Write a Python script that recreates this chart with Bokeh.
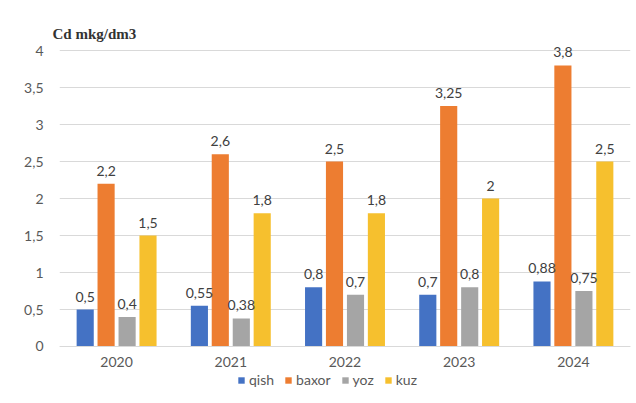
from bokeh.plotting import figure
from bokeh.models import (ColumnDataSource, FactorRange, Range1d, FixedTicker, LabelSet,
                          Legend, LegendItem, Title)
from bokeh.core.properties import value
from bokeh.transform import dodge
from bokeh.embed import file_html
from bokeh.resources import INLINE

years = ["2020", "2021", "2022", "2023", "2024"]
qish = [0.5, 0.55, 0.8, 0.7, 0.88]
baxor = [2.2, 2.6, 2.5, 3.25, 3.8]
yoz = [0.4, 0.38, 0.7, 0.8, 0.75]
kuz = [1.5, 1.8, 1.8, 2.0, 2.5]
y_ticks = [0, 0.5, 1, 1.5, 2, 2.5, 3, 3.5, 4]
series_names = ["qish", "baxor", "yoz", "kuz"]
title_text = "Cd mkg/dm3"


def fmt(v):
    return f"{v:g}".replace(".", ",")


data = {"year": years, "qish": qish, "baxor": baxor, "yoz": yoz, "kuz": kuz}
for name, vals in zip(series_names, [qish, baxor, yoz, kuz]):
    data[name + "_lbl"] = [fmt(v) for v in vals]
source = ColumnDataSource(data)

FONT = "Lato"

p = figure(frame_width=571, frame_height=348, x_range=FactorRange(*years), y_range=Range1d(-0.595, 4.11),
           output_backend="svg", toolbar_location=None,
           min_border_left=59, min_border_right=6, min_border_top=42, min_border_bottom=0,
           outline_line_color=None, background_fill_color="white", border_fill_color="white")

colors = ["#4472C4", "#ED7D31", "#A5A5A5", "#F6C02E"]
offsets = [-0.275, -0.092, 0.092, 0.275]
items = []
for name, col, off in zip(series_names, colors, offsets):
    r = p.vbar(x=dodge("year", off, range=p.x_range), top=name, bottom=0, width=0.15, source=source,
               fill_color=col, line_color=None)
    items.append(LegendItem(label=name, renderers=[r]))
    ls = LabelSet(x=dodge("year", off, range=p.x_range), y=name, text=name + "_lbl",
                  source=source, text_align="center", text_baseline="bottom", y_offset=8,
                  text_font=value(FONT), text_font_size=value("14px"), text_color="#404040")
    p.add_layout(ls)

p.xgrid.grid_line_color = None
p.ygrid.grid_line_color = "#D9D9D9"
p.ygrid.ticker = FixedTicker(ticks=y_ticks)

p.yaxis.ticker = FixedTicker(ticks=y_ticks)
p.yaxis.major_label_overrides = {float(t): fmt(t) for t in y_ticks}
p.yaxis.axis_line_color = None
p.yaxis.major_tick_line_color = None
p.yaxis.minor_tick_line_color = None
p.yaxis.major_tick_out = 0
p.yaxis.major_label_standoff = 16
p.yaxis.major_label_text_font = FONT
p.yaxis.major_label_text_font_size = "14px"
p.yaxis.major_label_text_color = "#595959"

p.xaxis.fixed_location = 0
p.xaxis.axis_line_color = "#D9D9D9"
p.xaxis.major_tick_line_color = None
p.xaxis.minor_tick_line_color = None
p.xaxis.major_tick_out = 0
p.xaxis.major_label_standoff = 11
p.xaxis.major_label_text_font = FONT
p.xaxis.major_label_text_font_size = "14px"
p.xaxis.major_label_text_color = "#595959"

legend = Legend(items=items, orientation="horizontal", location=(178, 2),
                border_line_alpha=0, background_fill_alpha=0,
                label_text_font=FONT, label_text_font_size="14px", label_text_color="#595959",
                glyph_width=8, glyph_height=8, spacing=10, padding=0, margin=0,
                label_standoff=4, label_height=14)
p.add_layout(legend)

p.add_layout(Title(text=title_text, align="left", offset=-7, standoff=2,
                   text_font="Liberation Serif", text_font_style="bold", text_font_size="15px",
                   text_color="#333333"), "above")

open("out.html", "w").write(file_html(p, INLINE))
